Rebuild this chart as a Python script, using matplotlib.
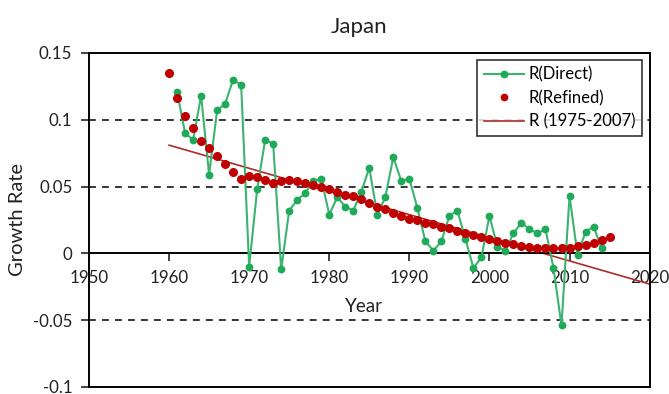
import matplotlib
matplotlib.use("Agg")
import matplotlib.pyplot as plt

plt.rcParams['font.family'] = ['Lato', 'DejaVu Sans']

# growth rate, direct estimate (1961-2014)
direct_years = list(range(1961, 2015))
direct_vals = [0.121, 0.090, 0.085, 0.118, 0.059, 0.107, 0.112, 0.130, 0.126, -0.010,
               0.048, 0.085, 0.082, -0.012, 0.032, 0.040, 0.045, 0.054, 0.056, 0.029,
               0.042, 0.035, 0.032, 0.046, 0.064, 0.029, 0.042, 0.072, 0.054, 0.056,
               0.034, 0.009, 0.002, 0.009, 0.028, 0.032, 0.011, -0.011, -0.003, 0.028,
               0.005, 0.002, 0.015, 0.023, 0.018, 0.015, 0.018, -0.011, -0.054, 0.043,
               -0.001, 0.016, 0.020, 0.004]

# refined estimate (1960-2015)
refined_years = list(range(1960, 2016))
refined_vals = [0.135, 0.116, 0.103, 0.094, 0.084, 0.079, 0.073, 0.067, 0.061, 0.056,
                0.058, 0.057, 0.055, 0.053, 0.054, 0.055, 0.054, 0.053, 0.051, 0.050,
                0.048, 0.046, 0.044, 0.043, 0.041, 0.038, 0.035, 0.033, 0.030, 0.028,
                0.026, 0.025, 0.023, 0.022, 0.020, 0.019, 0.017, 0.015, 0.0135, 0.012,
                0.011, 0.0092, 0.008, 0.0067, 0.0055, 0.0047, 0.0042, 0.0037, 0.0037, 0.0042,
                0.0042, 0.0055, 0.0065, 0.008, 0.0097, 0.012]

# linear fit over 1975-2007, drawn across 1960-2020
trend_years = [1960, 2020]
trend_vals = [0.081, -0.023]

x_ticks = [1950, 1960, 1970, 1980, 1990, 2000, 2010, 2020]
y_ticks = [-0.1, -0.05, 0, 0.05, 0.1, 0.15]
y_labels = ['-0.1', '-0.05', '0', '0.05', '0.1', '0.15']

fig = plt.figure(figsize=(6.69, 3.94), dpi=100)
ax = fig.add_axes([0.133, 0.018, 0.838, 0.8475])

green = '#1faa59'
red = '#c00000'

for y in [0.1, 0.05, -0.05]:
    ax.axhline(y, color='black', lw=1.1, ls=(0, (4.5, 4)), zorder=1)

ax.plot(direct_years, direct_vals, color='#3cb371', lw=1.5, marker='o',
        markersize=4.6, markerfacecolor=green, markeredgecolor=green,
        label='R(Direct)', zorder=3)
ax.plot(refined_years, refined_vals, ls='none', marker='o', markersize=5.5,
        color=red, label='R(Refined)', zorder=4)
ax.plot(trend_years, trend_vals, color='#b02a2a', lw=1.2,
        label='R (1975-2007)', zorder=2)

ax.set_xlim(1950, 2020)
ax.set_ylim(-0.1, 0.15)
ax.set_xticks(x_ticks)
ax.set_yticks(y_ticks)
ax.set_yticklabels(y_labels)

# x axis sits on the zero line, box closed at the bottom
ax.spines['bottom'].set_position(('data', 0))
for s in ax.spines.values():
    s.set_linewidth(1.4)
ax.axhline(-0.1, color='black', lw=1.4, zorder=5, clip_on=False)

ax.tick_params(axis='both', direction='out', length=6, width=1.2,
               labelsize=12.2, colors='#222222')
ax.tick_params(axis='x', pad=6)
ax.tick_params(axis='y', pad=6)

fig.text(0.536, 0.931, 'Japan', fontsize=16, ha='center', va='center',
         color='#222222')
ax.set_ylabel('Growth Rate', fontsize=14.5, color='#222222')
ax.yaxis.set_label_coords(-0.112, 0.5)
ax.set_xlabel('Year', fontsize=13.5, color='#222222')
ax.xaxis.set_label_coords(0.491, 0.265)

leg = ax.legend(loc='upper right', bbox_to_anchor=(0.986, 0.98), fontsize=12,
                frameon=True, fancybox=False, edgecolor='black',
                handlelength=2.4, borderpad=0.4, labelspacing=0.45,
                handletextpad=0.3, borderaxespad=0)
leg.get_frame().set_linewidth(1.2)
leg.legend_handles[1].set_markersize(4.5)

fig.savefig('out.png', dpi=100)
